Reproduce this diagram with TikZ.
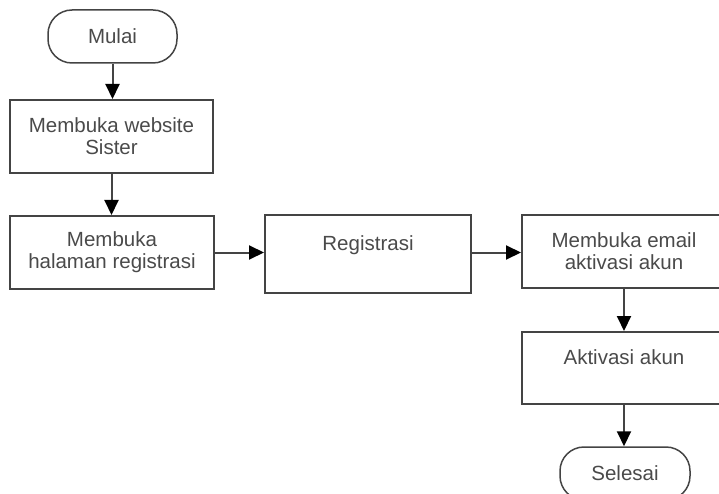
\documentclass[tikz,border=0pt]{standalone}
\usepackage{fontspec}
\setmainfont{Liberation Sans}
\usetikzlibrary{arrows.meta}
\definecolor{linec}{HTML}{444444}
\definecolor{textc}{HTML}{4A4A4A}
\begin{document}
\begin{tikzpicture}[x=1pt,y=-1pt,
  every node/.style={font=\fontsize{20.5}{22}\selectfont, text=textc},
  procbox/.style={draw=linec, line width=2pt, rectangle, align=center, inner sep=0pt},
  termbox/.style={draw=linec, line width=1.5pt, rectangle, rounded corners=24pt, align=center, inner sep=0pt},
  flow/.style={draw=linec, line width=2pt, -{Triangle[length=15pt,width=14pt,color=black]}}]
\useasboundingbox (0,0) rectangle (719,494);
\clip (0,0) rectangle (719,494);
\node[termbox, minimum width=129pt, minimum height=53pt] (mulai) at (112.5,36.5) {Mulai};
\node[procbox, minimum width=203pt, minimum height=73pt] (b1) at (111.5,136.5) {Membuka website\\Sister};
\node[procbox, minimum width=204pt, minimum height=73pt] (b2) at (112,252.5) {Membuka\\halaman registrasi};
\node[procbox, minimum width=206pt, minimum height=78pt] (b3) at (368,254) {Registrasi\\\mbox{}};
\node[procbox, minimum width=204pt, minimum height=73pt] (b4) at (624,251.5) {Membuka email\\aktivasi akun};
\node[procbox, minimum width=204pt, minimum height=72pt] (b5) at (624,368) {Aktivasi akun\\\mbox{}};
\node[termbox, minimum width=130pt, minimum height=53pt] (selesai) at (625,473.5) {Selesai};
\draw[flow] (mulai.south) -- (mulai.south |- b1.north);
\draw[flow] (b1.south) -- (b1.south |- b2.north);
\draw[flow] (b2.east) -- (b2.east -| b3.west);
\draw[flow] (b3.east |- b2.east) -- (b2.east -| b4.west);
\draw[flow] (b4.south) -- (b4.south |- b5.north);
\draw[flow] (b5.south) -- (b5.south |- selesai.north);
\end{tikzpicture}
\end{document}
